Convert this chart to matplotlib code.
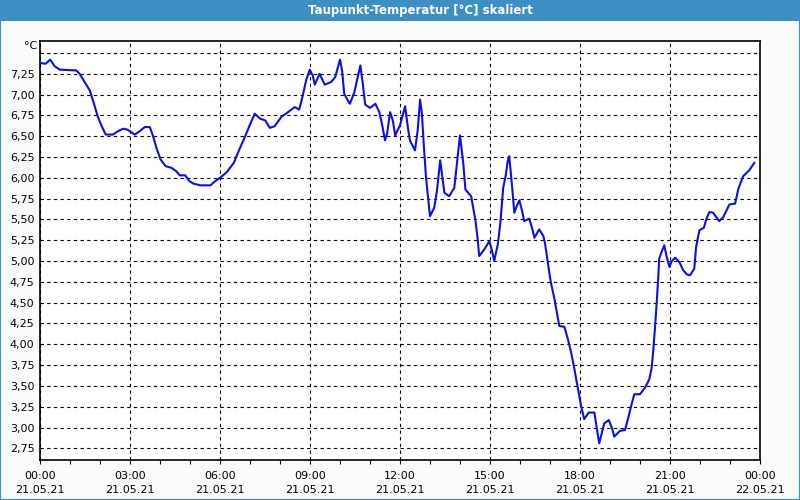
"""Taupunkt-Temperatur 21.05.21"""

import matplotlib

matplotlib.use("Agg")
import matplotlib.pyplot as plt
from matplotlib.patches import Rectangle
from matplotlib.ticker import FuncFormatter, MultipleLocator

# Data: time in hours since 21.05.21 00:00, dew point in degC
hours = [
    0.02, 0.18, 0.34, 0.49, 0.66, 1.21, 1.32, 1.49, 1.66, 1.80, 1.93, 2.07,
    2.19, 2.43, 2.60, 2.77, 2.91, 3.16, 3.32, 3.49, 3.66, 3.77, 3.88, 4.02,
    4.19, 4.38, 4.54, 4.66, 4.84, 4.98, 5.12, 5.34, 5.68, 5.84, 6.00, 6.23,
    6.46, 6.62, 6.84, 7.01, 7.16, 7.34, 7.51, 7.66, 7.82, 8.04, 8.27, 8.49,
    8.64, 8.76, 8.87, 8.99, 9.09, 9.16, 9.32, 9.49, 9.70, 9.84, 10.00, 10.07,
    10.14, 10.26, 10.33, 10.48, 10.59, 10.68, 10.76, 10.84, 11.00, 11.18,
    11.31, 11.42, 11.50, 11.57, 11.67, 11.76, 11.84, 12.00, 12.17, 12.26,
    12.33, 12.50, 12.59, 12.67, 12.73, 12.79, 12.87, 13.00, 13.14, 13.23,
    13.34, 13.48, 13.64, 13.81, 13.92, 14.00, 14.11, 14.18, 14.37, 14.51,
    14.59, 14.64, 14.81, 14.98, 15.07, 15.14, 15.26, 15.34, 15.44, 15.53,
    15.59, 15.64, 15.70, 15.76, 15.81, 15.89, 15.98, 16.07, 16.14, 16.31,
    16.40, 16.48, 16.64, 16.78, 16.84, 16.92, 17.03, 17.14, 17.22, 17.31,
    17.48, 17.59, 17.70, 17.81, 17.92, 18.03, 18.14, 18.29, 18.48, 18.56,
    18.64, 18.81, 18.96, 19.07, 19.14, 19.33, 19.50, 19.61, 19.72, 19.81,
    20.00, 20.17, 20.31, 20.39, 20.44, 20.50, 20.56, 20.61, 20.64, 20.72,
    20.81, 20.89, 20.98, 21.06, 21.17, 21.31, 21.44, 21.56, 21.67, 21.81,
    21.87, 21.98, 22.13, 22.20, 22.31, 22.44, 22.64, 22.78, 22.98, 23.17,
    23.28, 23.44, 23.64, 23.81,
]
dewpoint = [
    7.38, 7.37, 7.42, 7.34, 7.30, 7.29, 7.25, 7.15, 7.05, 6.89, 6.73, 6.61,
    6.52, 6.52, 6.56, 6.59, 6.58, 6.52, 6.56, 6.61, 6.61, 6.50, 6.36, 6.22,
    6.14, 6.12, 6.08, 6.03, 6.03, 5.96, 5.93, 5.91, 5.91, 5.96, 6.00, 6.07,
    6.18, 6.32, 6.50, 6.65, 6.77, 6.71, 6.69, 6.60, 6.62, 6.73, 6.79, 6.85,
    6.82, 6.99, 7.17, 7.30, 7.23, 7.12, 7.25, 7.12, 7.15, 7.21, 7.42, 7.29,
    7.01, 6.93, 6.89, 7.03, 7.21, 7.35, 7.13, 6.88, 6.84, 6.89,
    6.79, 6.61, 6.45, 6.53, 6.79, 6.69, 6.51, 6.63, 6.86, 6.61,
    6.45, 6.33, 6.57, 6.94, 6.77, 6.41, 5.99, 5.54, 5.64, 5.84,
    6.21, 5.82, 5.78, 5.88, 6.25, 6.51, 6.17, 5.86, 5.78, 5.50,
    5.26, 5.06, 5.14, 5.24, 5.12, 5.00, 5.20, 5.44, 5.88, 6.04,
    6.20, 6.26, 6.04, 5.80, 5.58, 5.66, 5.73, 5.60, 5.48, 5.51,
    5.40, 5.28, 5.38, 5.30, 5.20, 5.00, 4.74, 4.56, 4.40, 4.22,
    4.21, 4.07, 3.91, 3.71, 3.49, 3.27, 3.10, 3.18, 3.18, 2.99,
    2.81, 3.05, 3.09, 2.99, 2.89, 2.96, 2.97, 3.12, 3.28, 3.40,
    3.40, 3.48, 3.58, 3.72, 3.92, 4.20, 4.52, 4.81, 5.03, 5.11,
    5.19, 5.05, 4.93, 5.00, 5.04, 4.99, 4.89, 4.84, 4.83, 4.91,
    5.17, 5.37, 5.40, 5.49, 5.59, 5.58, 5.48, 5.53, 5.68, 5.69,
    5.87, 6.02, 6.09, 6.18,
]

x_tick_hours = [0, 3, 6, 9, 12, 15, 18, 21, 24]
x_tick_labels = [
    "00:00\n21.05.21", "03:00\n21.05.21", "06:00\n21.05.21",
    "09:00\n21.05.21", "12:00\n21.05.21", "15:00\n21.05.21",
    "18:00\n21.05.21", "21:00\n21.05.21", "00:00\n22.05.21",
]
y_grid = [2.75 + 0.25 * i for i in range(20)]  # 2,75 ... 7,50
title = "Taupunkt-Temperatur [°C] skaliert"

bg = "#fafcfa"
bar_blue = "#3d8fc3"

fig = plt.figure(figsize=(8, 5), dpi=100, facecolor=bg)

# Window title bar and border
fig.patches.append(
    Rectangle((0, 0.958), 1, 0.042, transform=fig.transFigure,
              facecolor=bar_blue, edgecolor="none", zorder=0)
)
fig.patches.append(
    Rectangle((0.0006, 0.001), 0.9988, 0.998, transform=fig.transFigure,
              facecolor="none", edgecolor=bar_blue, linewidth=1.5, zorder=5)
)
fig.text(0.525, 0.979, title, color="white", fontsize=8.5,
         fontweight="bold", ha="center", va="center")

ax = fig.add_axes([0.05, 0.08, 0.9, 0.839])
ax.set_facecolor("white")
ax.plot(hours, dewpoint, color="#0a10e6", linewidth=1.5, zorder=3)

ax.set_xlim(0, 24)
ax.set_ylim(2.61, 7.65)

ax.set_xticks(x_tick_hours)
ax.set_xticklabels(x_tick_labels, fontsize=8, linespacing=1.5)
ax.xaxis.set_minor_locator(MultipleLocator(1))
ax.tick_params(axis="x", which="both", length=3, width=0.8, pad=5,
               color="black")

ax.set_yticks(y_grid)
ax.yaxis.set_major_formatter(
    FuncFormatter(lambda v, pos: "" if v > 7.3 else f"{v:.2f}".replace(".", ","))
)
ax.tick_params(axis="y", length=0, pad=4, labelsize=8)

ax.grid(True, which="major", color="black", linestyle=(0, (3, 3)),
        linewidth=0.8)
for spine in ax.spines.values():
    spine.set_linewidth(1.2)

fig.text(0.038, 0.908, "°C", fontsize=8, ha="center", va="center")

plt.savefig("out.png", dpi=100, facecolor=bg)
